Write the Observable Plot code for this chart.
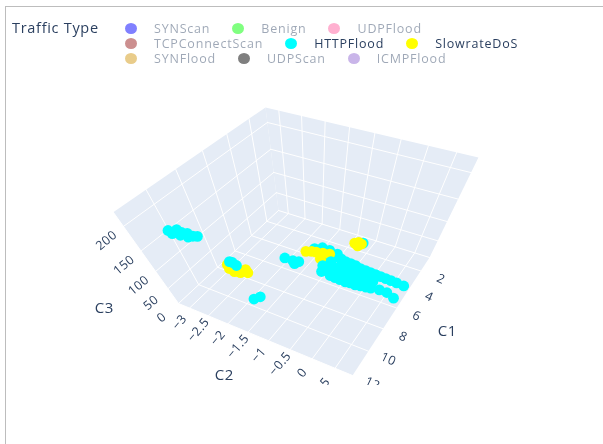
<!DOCTYPE html>
<html>
<head>
<meta charset="utf-8">
<script src="https://cdn.jsdelivr.net/npm/d3@7"></script>
<script src="https://cdn.jsdelivr.net/npm/@observablehq/plot@0.6"></script>
<style>
html,body{margin:0;padding:0;background:#fff;width:603px;height:444px;overflow:hidden;}
#legend{position:relative;height:70px;font-family:"Open Sans",sans-serif;color:#2a3f5f;filter:blur(.35px);}
#legendTitle{position:absolute;left:12px;top:18px;font-size:14.5px;letter-spacing:.7px;}
.row{position:absolute;left:125px;display:flex;height:15px;align-items:center;font-size:12.5px;letter-spacing:.8px;white-space:nowrap;}
.item{display:flex;align-items:center;}
.item span:last-child{display:block;line-height:13px;height:13px;}
.dot{width:12px;height:11px;border-radius:50%;margin-right:17px;}
#frame{position:absolute;left:5px;top:6px;right:0;bottom:0;border-left:1.5px solid #bdbdbd;border-top:1.5px solid #bdbdbd;pointer-events:none;}
#chart{filter:blur(.35px);}
svg{display:block;}
svg text{letter-spacing:.45px;}
</style>
</head>
<body>
<div id="legend"></div>
<div id="chart"></div>
<div id="frame"></div>
<script>
// ----- legend -----
const legendTitle = "Traffic Type";
const legendRows = [
  ["SYNScan", "Benign", "UDPFlood"],
  ["TCPConnectScan", "HTTPFlood", "SlowrateDoS"],
  ["SYNFlood", "UDPScan", "ICMPFlood"]
];
const legendColors = {
  SYNScan: "#8080ff", Benign: "#80ff80", UDPFlood: "#ffb0d0",
  TCPConnectScan: "#cc8f8f", HTTPFlood: "#00ffff", SlowrateDoS: "#ffff00",
  SYNFlood: "#e9cc8a", UDPScan: "#7f7f7f", ICMPFlood: "#c9b5e9"
};
const visibleTypes = ["HTTPFlood", "SlowrateDoS"];

// ----- ticks and axis ranges -----
const c1Ticks = [2, 4, 6, 8, 10, 12];
const c2Ticks = [-3, -2.5, -2, -1.5, -1, -0.5, 0, 0.5];
const c2TickLabels = ["−3", "−2.5", "−2", "−1.5", "−1", "−0.5", "0", "5"];
const c3Ticks = [0, 50, 100, 150, 200];
const c1Range = [0.4, 12];
const c2Range = [-3.3, 0.87];
const c3Range = [0, 225];

// ----- points -----
const httpBackC1 = [3.20, 2.86, 2.88, 3.00, 3.44, 1.06, 3.62, 3.31, 3.34];
const httpBackC2 = [-1.67, -1.52, -1.32, -1.09, -1.30, -0.74, -1.27, -1.06, -0.93];
const httpBackC3 = [0, 0, 0, 0, 0, 0, 0, 0, 0];

const slowC1 = [3.75, 3.56, 3.50, 3.38, 3.25, 3.99, 4.33, 1.34, 1.12, 1.21, 1.52, 7.46, 7.74, 7.85, 7.74, 7.52, 7.49, 7.32, 7.56];
const slowC2 = [-1.80, -1.68, -1.57, -1.41, -1.25, -1.36, -1.20, -0.92, -0.85, -0.76, -0.81, -3.16, -3.03, -2.86, -2.72, -2.57, -2.87, -2.68, -2.99];
const slowC3 = [0, 0, 0, 0, 0, 0, 0, 0, 0, 0, 0, 0, 0, 0, 0, 0, 0, 0, 0];

const httpC1 = [3.46, 3.52, 3.68, 3.73, 3.79, 3.85, 3.91,
  4.55, 4.33, 4.39, 4.36, 4.41, 4.47,
  5.13, 5.22, 5.28, 5.25, 5.21, 5.09, 4.98, 4.99, 5.27,
  3.93, 3.99, 4.05, 4.11, 4.17,
  4.85, 4.91, 4.88, 4.85, 4.81,
  3.49, 3.65, 3.71, 3.76, 3.82,
  5.25, 5.31, 5.28, 5.15,
  5.05, 5.05, 4.95, 5.26,
  7.14, 7.13, 7.26,
  9.45, 9.09,
  10.04, 9.66, 9.34, 9.02, 8.76, 8.47, 9.90, 9.49, 9.08, 9.54];
const httpC2 = [-0.79, -0.52, -0.24, 0.02, 0.28, 0.55, 0.73,
  -1.19, -0.97, -0.71, -0.46, -0.19, 0.07,
  -1.11, -0.87, -0.61, -0.36, -0.11, 0.12, 0.31, 0.49, 0.69,
  -1.09, -0.82, -0.56, -0.30, -0.03,
  -1.01, -0.74, -0.50, -0.25, 0,
  -0.65, -0.375, -0.11, 0.15, 0.41,
  -0.74, -0.47, -0.23, 0.01,
  -2.11, -1.89, -1.75, -1.80,
  -3.18, -3.10, -2.95,
  -1.95, -1.87,
  -3.3, -3.3, -3.3, -3.3, -3.3, -3.3, -3.3, -3.3, -3.3, -3.3];
const httpC3 = [0, 0, 0, 0, 0, 0, 0,
  0, 0, 0, 0, 0, 0,
  0, 0, 0, 0, 0, 0, 0, 0, 0,
  0, 0, 0, 0, 0,
  0, 0, 0, 0, 0,
  0, 0, 0, 0, 0,
  0, 0, 0, 0,
  0, 0, 0, 0,
  0, 0, 0,
  0, 0,
  149, 138, 129, 120, 107, 100, 139, 126, 112, 140];

// ----- camera: homogeneous projection of the unit box onto the page -----
const camX = [-131.67, 106.7, -83.75, 278];
const camY = [39.1, 20.45, -131.6, 210];
const camW = [-0.1779, -0.1033, -0.267, 1];
const u1 = d3.scaleLinear().domain(c1Range).range([0, 1]);
const u2 = d3.scaleLinear().domain(c2Range).range([0, 1]);
const u3 = d3.scaleLinear().domain(c3Range).range([0, 1]);
function project(a, b, c) {
  const p = [u1(a), u2(b), u3(c), 1];
  const w = d3.sum(camW, (k, i) => k * p[i]);
  return [d3.sum(camX, (k, i) => k * p[i]) / w, d3.sum(camY, (k, i) => k * p[i]) / w];
}
const at = (a, b, c, extra = {}) => {
  const [px, py] = project(a, b, c);
  return {px, py, ...extra};
};
const [c1Lo, c1Hi] = c1Range, [c2Lo, c2Hi] = c2Range, [c3Lo, c3Hi] = c3Range;

// ----- walls and grid -----
const panels = [
  [[c1Lo, c2Lo, c3Lo], [c1Hi, c2Lo, c3Lo], [c1Hi, c2Hi, c3Lo], [c1Lo, c2Hi, c3Lo]],
  [[c1Lo, c2Lo, c3Lo], [c1Hi, c2Lo, c3Lo], [c1Hi, c2Lo, c3Hi], [c1Lo, c2Lo, c3Hi]],
  [[c1Lo, c2Lo, c3Lo], [c1Lo, c2Hi, c3Lo], [c1Lo, c2Hi, c3Hi], [c1Lo, c2Lo, c3Hi]]
].flatMap((corners, i) => corners.map(c => at(c[0], c[1], c[2], {panel: i})));

const segs = [];
const seg = (a, b) => segs.push([at(...a), at(...b)]);
for (const t of c1Ticks) {
  seg([t, c2Lo, c3Lo], [t, c2Hi, c3Lo]);
  seg([t, c2Lo, c3Lo], [t, c2Lo, c3Hi]);
}
for (const t of c2Ticks) {
  seg([c1Lo, t, c3Lo], [c1Hi, t, c3Lo]);
  seg([c1Lo, t, c3Lo], [c1Lo, t, c3Hi]);
}
for (const t of c3Ticks) {
  seg([c1Lo, c2Lo, t], [c1Hi, c2Lo, t]);
  seg([c1Lo, c2Lo, t], [c1Lo, c2Hi, t]);
}
const gridPts = segs.flatMap((s, i) => s.map(p => ({...p, id: i})));

const pts = (a, b, c) => a.map((v, i) => at(v, b[i], c[i]));
const tickFont = {fontFamily: "'Open Sans', sans-serif", fontSize: 12.5, fill: "#2a3f5f"};

const c1Labels = c1Ticks.map(t => at(t, c2Hi, c3Lo, {label: String(t)}));
const c2Labels = c2Ticks.map((t, i) => at(c1Hi, t, c3Lo, {label: c2TickLabels[i]}));
const c3Labels = c3Ticks.map(t => at(c1Hi, c2Lo, t, {label: String(t)}));

const xy = {x: "px", y: "py"};
const chart = Plot.plot({
  width: 603, height: 315,
  marginTop: 0, marginRight: 0, marginBottom: 0, marginLeft: 0,
  x: {domain: [0, 603], range: [0, 603], axis: null},
  y: {domain: [70, 385], range: [0, 315], axis: null},
  style: {background: "transparent"},
  marks: [
    Plot.line(panels, {...xy, z: "panel", fill: "#e5ecf6", stroke: "none"}),
    Plot.line(gridPts, {...xy, z: "id", stroke: "#fff", strokeWidth: 1}),
    Plot.dot(pts(httpBackC1, httpBackC2, httpBackC3), {...xy, r: 5.4, fill: legendColors.HTTPFlood}),
    Plot.dot(pts(slowC1, slowC2, slowC3), {...xy, r: 5.4, fill: legendColors.SlowrateDoS}),
    Plot.dot(pts(httpC1, httpC2, httpC3), {...xy, r: 5.4, fill: legendColors.HTTPFlood}),
    Plot.text(c1Labels, {...xy, text: "label", dx: 20, dy: 8, rotate: 25, ...tickFont}),
    Plot.text(c2Labels, {...xy, text: "label", dx: -10, dy: 14, rotate: -50, ...tickFont}),
    Plot.text(c3Labels, {...xy, text: "label", dx: -17, dy: 14, rotate: -40, ...tickFont}),
    Plot.text([at(6.5, c2Hi, c3Lo, {label: "C1"})], {...xy, text: "label", dx: 54, dy: 18, ...tickFont, fontSize: 15}),
    Plot.text([at(c1Hi, -1.2, c3Lo, {label: "C2"})], {...xy, text: "label", dx: -36, dy: 38, ...tickFont, fontSize: 15}),
    Plot.text([at(c1Hi, c2Lo, 112, {label: "C3"})], {...xy, text: "label", dx: -48, dy: 41, ...tickFont, fontSize: 15})
  ]
});
document.getElementById("chart").append(chart);

// ----- legend -----
const legend = d3.select("#legend");
legend.append("div").attr("id", "legendTitle").text(legendTitle);
legendRows.forEach((row, r) => {
  const div = legend.append("div").attr("class", "row").style("top", (21 + r * 15) + "px").style("gap", "22px");
  row.forEach(name => {
    const on = visibleTypes.includes(name);
    const it = div.append("div").attr("class", "item");
    it.append("span").attr("class", "dot").style("background", legendColors[name]);
    it.append("span").style("opacity", on ? 1 : 0.45).text(name);
  });
});
</script>
</body>
</html>
